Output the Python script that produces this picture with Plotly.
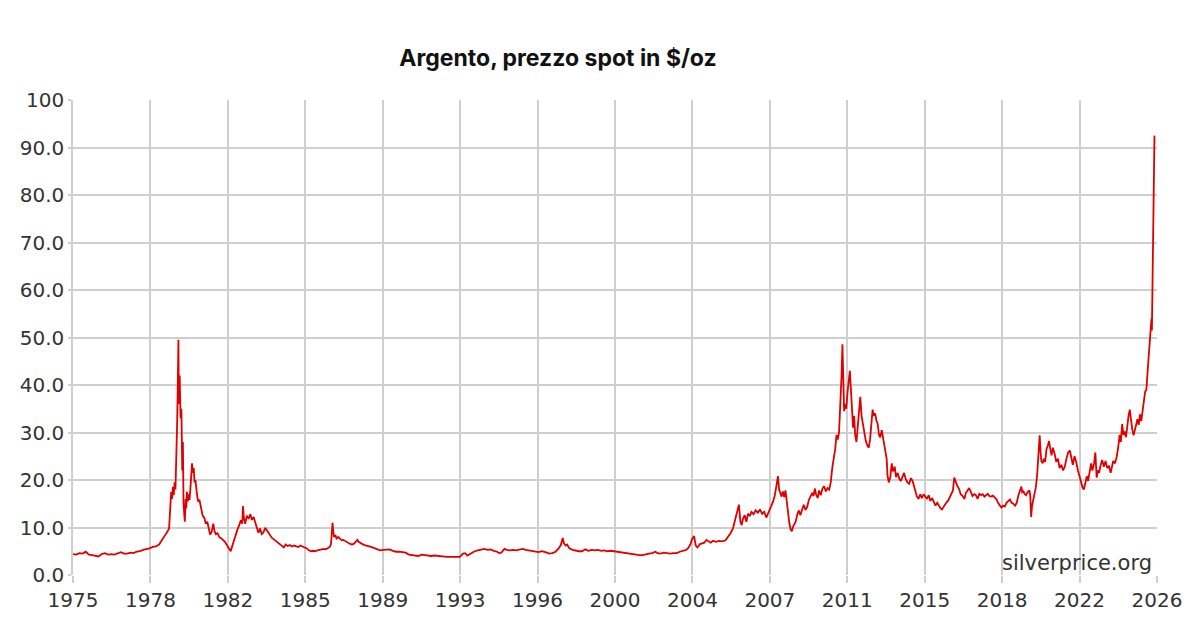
import plotly.graph_objects as go

# Decimal-year positions and silver spot price ($/oz)
years = [
 1975.00,1975.15,1975.30,1975.45,1975.60,1975.75,1975.90,1976.05,1976.20,1976.35,1976.50,1976.65,1976.80,1976.95,
 1977.10,1977.25,1977.40,1977.55,1977.70,1977.85,1978.00,1978.15,1978.30,1978.45,1978.60,1978.75,1978.90,
 1979.05,1979.15,1979.25,1979.35,1979.45,1979.52,1979.58,1979.62,1979.66,1979.70,1979.74,1979.78,1979.82,1979.86,
 1979.90,1979.93,1979.96,1979.98,1980.02,1980.06,1980.10,1980.14,1980.17,1980.20,1980.23,1980.26,1980.30,1980.33,
 1980.36,1980.40,1980.44,1980.48,1980.52,1980.56,1980.60,1980.64,1980.68,1980.72,1980.76,1980.82,1980.88,1980.95,
 1981.02,1981.10,1981.18,1981.25,1981.32,1981.40,1981.45,1981.52,1981.60,1981.66,1981.72,1981.80,1981.88,1981.95,
 1982.05,1982.15,1982.25,1982.35,1982.42,1982.50,1982.58,1982.66,1982.74,1982.82,1982.90,1982.96,
 1983.00,1983.04,1983.10,1983.18,1983.26,1983.34,1983.42,1983.50,1983.58,1983.66,1983.72,1983.80,1983.88,1983.95,
 1984.05,1984.12,1984.20,1984.28,1984.36,1984.45,1984.55,1984.65,1984.75,1984.85,1984.92,
 1985.00,1985.10,1985.20,1985.30,1985.40,1985.50,1985.60,1985.70,1985.80,1985.90,
 1986.00,1986.10,1986.20,1986.30,1986.40,1986.50,1986.60,1986.70,1986.80,1986.90,
 1987.00,1987.08,1987.14,1987.18,1987.21,1987.24,1987.28,1987.34,1987.40,1987.48,1987.56,1987.64,1987.72,1987.82,1987.92,
 1988.02,1988.12,1988.22,1988.32,1988.38,1988.44,1988.52,1988.62,1988.72,1988.82,1988.92,
 1989.02,1989.15,1989.30,1989.45,1989.60,1989.75,1989.90,
 1990.05,1990.20,1990.35,1990.50,1990.65,1990.80,1990.95,
 1991.10,1991.25,1991.40,1991.55,1991.70,1991.85,
 1992.00,1992.15,1992.30,1992.45,1992.60,1992.75,1992.90,
 1993.05,1993.20,1993.35,1993.45,1993.55,1993.65,1993.75,1993.90,
 1994.05,1994.20,1994.35,1994.50,1994.65,1994.80,1994.95,
 1995.05,1995.15,1995.30,1995.40,1995.55,1995.70,1995.85,
 1996.00,1996.15,1996.30,1996.45,1996.60,1996.75,1996.90,
 1997.05,1997.20,1997.30,1997.40,1997.55,1997.70,1997.85,1997.95,
 1998.04,1998.10,1998.18,1998.25,1998.35,1998.50,1998.65,1998.80,1998.95,
 1999.10,1999.25,1999.40,1999.55,1999.70,1999.85,
 2000.00,2000.15,2000.30,2000.45,2000.60,2000.75,2000.90,
 2001.05,2001.20,2001.35,2001.50,2001.65,2001.80,2001.95,
 2002.10,2002.25,2002.40,2002.50,2002.65,2002.80,2002.95,
 2003.10,2003.25,2003.40,2003.55,2003.70,2003.85,2003.95,
 2004.05,2004.12,2004.22,2004.30,2004.38,2004.50,2004.60,2004.70,2004.80,2004.90,
 2005.00,2005.12,2005.25,2005.40,2005.55,2005.70,2005.85,2005.95,
 2006.05,2006.15,2006.25,2006.33,2006.40,2006.46,2006.52,2006.60,2006.68,2006.76,2006.84,2006.92,
 2007.02,2007.12,2007.22,2007.32,2007.42,2007.52,2007.62,2007.70,2007.78,2007.86,2007.94,
 2008.02,2008.10,2008.17,2008.22,2008.28,2008.34,2008.40,2008.46,2008.52,2008.58,2008.64,2008.70,2008.76,2008.82,2008.88,2008.94,
 2009.00,2009.08,2009.15,2009.22,2009.30,2009.38,2009.46,2009.54,2009.62,2009.70,2009.78,2009.84,2009.90,2009.96,
 2010.04,2010.10,2010.18,2010.26,2010.34,2010.42,2010.50,2010.58,2010.65,2010.72,2010.80,2010.86,2010.92,2010.98,
 2011.04,2011.10,2011.16,2011.20,2011.24,2011.28,2011.32,2011.38,2011.44,2011.50,2011.55,2011.60,2011.64,2011.70,2011.75,2011.80,2011.86,2011.92,2011.98,
 2012.04,2012.10,2012.16,2012.22,2012.30,2012.38,2012.44,2012.50,2012.56,2012.62,2012.68,2012.74,2012.80,2012.86,2012.92,2012.98,
 2013.05,2013.12,2013.20,2013.28,2013.32,2013.38,2013.45,2013.52,2013.58,2013.66,2013.72,2013.80,2013.88,2013.95,
 2014.02,2014.10,2014.18,2014.26,2014.34,2014.42,2014.50,2014.58,2014.64,2014.70,2014.78,2014.86,2014.94,
 2015.02,2015.10,2015.18,2015.26,2015.34,2015.42,2015.50,2015.58,2015.66,2015.74,2015.82,2015.88,2015.94,
 2016.02,2016.10,2016.18,2016.26,2016.34,2016.40,2016.46,2016.52,2016.58,2016.64,2016.70,2016.76,2016.82,2016.88,2016.94,
 2017.00,2017.08,2017.16,2017.24,2017.32,2017.40,2017.48,2017.56,2017.64,2017.72,2017.80,2017.88,2017.96,
 2018.04,2018.12,2018.20,2018.28,2018.36,2018.44,2018.52,2018.60,2018.68,2018.76,2018.84,2018.92,
 2019.00,2019.08,2019.16,2019.24,2019.32,2019.40,2019.48,2019.56,2019.62,2019.66,2019.72,2019.78,2019.84,2019.92,
 2020.00,2020.04,2020.08,2020.12,2020.18,2020.24,2020.30,2020.36,2020.40,2020.44,2020.48,2020.52,2020.56,2020.62,2020.68,2020.74,2020.80,2020.86,2020.92,2020.98,
 2021.04,2021.10,2021.18,2021.26,2021.34,2021.42,2021.50,2021.58,2021.66,2021.74,2021.82,2021.90,2021.96,
 2022.04,2022.12,2022.20,2022.28,2022.36,2022.44,2022.50,2022.56,2022.62,2022.70,2022.76,2022.84,2022.90,2022.96,
 2023.04,2023.10,2023.16,2023.22,2023.28,2023.34,2023.42,2023.50,2023.58,2023.66,2023.74,2023.82,2023.88,2023.94,
 2024.02,2024.10,2024.18,2024.24,2024.30,2024.36,2024.42,2024.48,2024.54,2024.60,2024.66,2024.72,2024.78,2024.84,2024.90,2024.96,
 2025.02,2025.08,2025.14,2025.20,2025.26,2025.32,2025.38,2025.44,2025.50,2025.56,2025.62,2025.66,2025.70,2025.74,2025.76,2025.80,2025.84,2025.88,
]

prices = [
 4.4,4.3,4.6,4.5,4.9,4.3,4.2,4.1,3.9,4.4,4.6,4.3,4.4,4.3,
 4.6,4.8,4.5,4.5,4.7,4.6,4.9,5.0,5.3,5.4,5.6,5.9,6.0,
 6.4,7.2,7.8,8.5,9.2,9.8,14.5,17.5,16.0,18.5,16.8,19.5,18.0,24.0,
 32.0,40.0,49.5,36.0,42.0,33.0,35.0,22.0,28.0,15.0,12.0,11.2,16.0,14.0,
 17.5,15.5,17.0,15.8,18.0,20.5,23.5,21.5,22.5,19.5,20.0,17.5,15.5,15.8,
 14.0,12.5,12.0,10.8,11.2,9.3,8.5,9.0,10.8,9.2,8.6,8.8,8.0,7.8,
 7.4,7.0,6.2,5.5,5.0,6.2,7.5,8.8,9.6,10.5,11.5,10.8,
 14.5,12.0,10.8,12.5,11.8,12.8,11.6,12.2,11.2,9.8,8.9,9.8,8.6,8.9,
 9.9,9.4,8.8,8.4,7.8,7.5,7.1,6.8,6.4,6.0,5.8,
 6.4,6.1,6.3,6.0,6.2,6.1,5.9,6.2,6.0,5.9,
 5.6,5.2,5.0,5.1,5.0,5.2,5.3,5.5,5.5,5.4,
 5.6,5.9,6.5,9.0,11.0,9.5,8.0,8.4,7.7,8.0,7.7,7.3,7.4,7.1,6.8,
 6.6,6.4,6.6,7.1,7.4,7.0,6.7,6.5,6.3,6.2,6.1,
 5.9,5.7,5.4,5.2,5.3,5.4,5.4,
 5.1,4.9,4.9,4.8,4.7,4.3,4.2,
 4.0,4.0,4.3,4.2,4.1,4.0,
 4.1,4.0,4.0,3.9,3.8,3.8,3.8,
 3.7,3.8,4.5,4.6,4.1,4.4,4.6,5.0,
 5.2,5.4,5.5,5.3,5.4,5.1,4.9,
 4.6,4.7,5.5,5.3,5.2,5.3,5.2,
 5.4,5.5,5.3,5.2,5.1,4.9,4.8,
 5.0,4.9,4.7,4.5,4.6,4.9,5.6,6.3,
 7.8,6.6,6.2,6.4,5.6,5.3,5.1,5.0,5.0,
 5.4,5.1,5.3,5.2,5.3,5.1,
 5.2,5.0,5.1,5.0,4.9,4.8,4.7,
 4.6,4.4,4.3,4.3,4.2,4.2,4.4,
 4.5,4.6,4.9,4.6,4.5,4.7,4.6,
 4.5,4.6,4.6,4.9,5.1,5.3,5.7,
 6.5,7.5,8.2,6.2,5.8,6.5,6.7,6.8,7.4,7.0,
 6.8,7.2,7.0,7.2,7.1,7.3,8.2,8.9,
 9.8,11.5,13.2,14.8,11.2,10.5,11.8,12.6,11.2,12.9,12.4,13.3,
 12.8,13.6,13.1,13.8,12.9,13.3,12.1,12.9,13.8,14.6,15.5,
 16.8,19.0,20.8,18.0,17.2,16.5,17.6,16.4,17.8,15.0,12.5,11.0,9.6,9.2,10.2,10.8,
 11.2,12.8,13.6,12.6,13.9,14.8,13.7,14.3,15.8,16.4,17.3,16.6,18.2,17.0,
 16.2,17.8,16.8,18.2,18.7,17.6,18.3,18.0,19.5,22.5,24.5,26.5,29.5,28.5,
 30.0,35.5,42.0,48.6,38.0,34.5,36.0,35.0,38.5,40.5,43.0,39.0,34.5,31.0,33.5,29.5,28.0,31.5,34.0,
 37.5,33.5,32.0,29.8,28.2,27.2,26.8,28.5,31.5,34.8,33.5,34.0,32.5,31.8,29.5,29.0,
 30.5,28.5,26.5,24.5,21.0,19.5,20.5,23.5,21.8,22.8,20.6,21.5,20.2,19.8,
 20.6,21.5,20.2,19.5,19.2,20.4,19.8,18.5,17.5,16.6,16.0,17.0,16.2,
 17.0,16.5,16.0,16.8,15.6,16.2,15.2,14.6,15.2,14.5,14.0,13.8,14.3,
 14.8,15.3,15.7,16.5,17.2,17.8,20.5,19.6,19.0,18.5,18.0,17.0,16.8,16.4,16.0,
 17.2,17.8,18.3,17.5,16.6,17.0,16.8,16.0,17.1,16.8,17.0,16.5,16.9,
 17.1,16.6,16.5,16.7,16.3,16.0,15.2,14.6,14.2,14.6,14.4,15.2,
 15.6,15.9,15.2,15.0,14.6,15.2,16.8,17.8,18.6,17.4,17.6,17.0,16.8,17.5,
 17.8,16.5,12.2,14.5,15.8,17.5,18.5,21.0,24.5,27.5,29.4,26.0,24.0,23.5,24.5,23.8,26.5,27.2,28.2,26.5,
 25.2,26.8,25.6,23.8,24.5,22.5,23.2,22.0,22.8,24.5,25.8,26.2,24.8,
 23.2,25.0,23.8,22.0,20.5,19.5,18.4,18.0,19.0,20.8,19.8,21.5,23.5,22.0,
 23.5,25.8,20.5,22.0,21.5,23.0,24.2,22.8,24.0,22.5,23.0,21.5,22.6,24.0,
 23.5,24.8,27.0,29.5,28.0,31.8,29.5,30.2,29.0,31.5,33.5,34.8,32.0,30.5,29.4,30.6,
 31.2,32.8,31.6,33.8,32.4,34.0,36.5,38.5,39.0,43.0,46.5,48.5,52.0,54.0,51.5,68.0,70.0,92.5,
]

x_start = 1975.0
x_end = 2026.0
n_ticks = 15
tick_labels = ["1975", "1978", "1982", "1985", "1989", "1993", "1996", "2000",
               "2004", "2007", "2011", "2015", "2018", "2022", "2026"]
y_tick_vals = [0, 10, 20, 30, 40, 50, 60, 70, 80, 90, 100]
y_tick_text = ["0.0", "10.0", "20.0", "30.0", "40.0", "50.0", "60.0", "70.0", "80.0", "90.0", "100"]

step = (x_end - x_start) / (n_ticks - 1)
x_tick_vals = [x_start + i * step for i in range(n_ticks)]

W, H = 1192, 622
ML, MR, MT, MB = 65, 43, 92, 55

fig = go.Figure()
fig.add_trace(go.Scatter(
    x=years, y=prices, mode="lines",
    line=dict(color="#e00000", width=1.8),
    hoverinfo="skip", showlegend=False,
))

tick_font = dict(family="DejaVu Sans", size=20, color="#333333")

fig.update_layout(
    width=W, height=H,
    paper_bgcolor="white", plot_bgcolor="white",
    margin=dict(l=ML, r=MR, t=MT, b=MB),
    title=dict(
        text="<b>Argento, prezzo spot in $/oz</b>",
        x=550 / W, xanchor="center", y=1 - 50 / H, yanchor="middle",
        font=dict(family="Inter", size=23, color="#111111"),
    ),
    xaxis=dict(
        range=[x_start, x_end],
        tickmode="array", tickvals=x_tick_vals, ticktext=tick_labels,
        showgrid=True, gridcolor="#cfcfcf", gridwidth=1.5,
        zeroline=False, showline=False,
        ticks="outside", ticklen=7, tickcolor="#cfcfcf", tickwidth=1.5,
        tickfont=tick_font,
    ),
    yaxis=dict(
        range=[0, 100],
        tickmode="array", tickvals=y_tick_vals, ticktext=y_tick_text,
        showgrid=True, gridcolor="#cfcfcf", gridwidth=1.5,
        zeroline=False, showline=True, linecolor="#cfcfcf", linewidth=1.5,
        ticks="outside", ticklen=3, tickcolor="#cfcfcf", tickwidth=1.5,
        tickfont=tick_font,
    ),
    annotations=[dict(
        text="silverprice.org", xref="paper", yref="paper",
        x=0.997, y=0.025, xanchor="right", yanchor="middle",
        showarrow=False,
        font=dict(family="DejaVu Sans", size=21, color="#333333"),
    )],
)

fig.write_html("out.html")
